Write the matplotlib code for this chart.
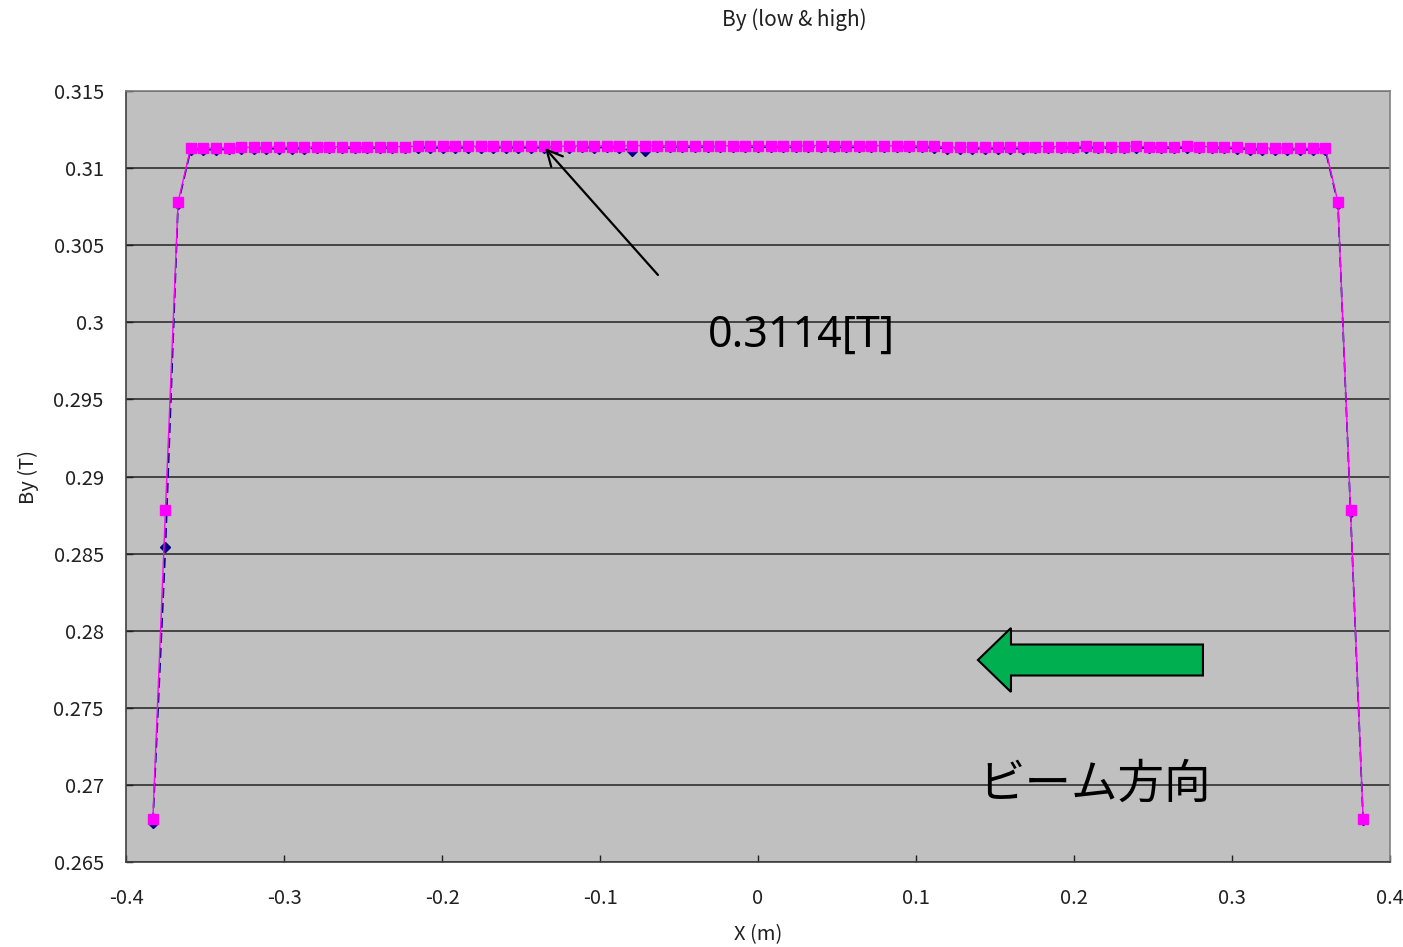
import numpy as np
import matplotlib
matplotlib.use("Agg")
import matplotlib.pyplot as plt
from matplotlib.patches import FancyArrow

plt.rcParams['font.family'] = ['Noto Sans CJK JP', 'DejaVu Sans']

# ---- data ----
high = [0.26780, 0.28780, 0.30780, 0.31130, 0.31128, 0.31130, 0.31131,
        0.31135, 0.31134, 0.31136, 0.31135, 0.31136, 0.31137,
        0.31138, 0.31139, 0.31138, 0.31139, 0.31138, 0.31140, 0.31139, 0.31140,
        0.31141, 0.31142, 0.31141, 0.31142, 0.31141, 0.31142, 0.31143, 0.31142, 0.31141, 0.31143, 0.31142, 0.31141,
        0.31143, 0.31144, 0.31143, 0.31144, 0.31143,
        0.31145, 0.31146, 0.31145, 0.31146, 0.31145, 0.31146, 0.31145, 0.31144, 0.31145, 0.31146, 0.31145, 0.31146, 0.31145,
        0.31144, 0.31145, 0.31146, 0.31145, 0.31144, 0.31145, 0.31146, 0.31145, 0.31144, 0.31145, 0.31144, 0.31143,
        0.31136, 0.31135, 0.31136, 0.31135, 0.31136, 0.31137, 0.31136, 0.31138,
        0.31140, 0.31139, 0.31140, 0.31141, 0.31140, 0.31139, 0.31140, 0.31141, 0.31140, 0.31139, 0.31140, 0.31141,
        0.31140, 0.31139, 0.31138, 0.31137,
        0.31130, 0.31129, 0.31128, 0.31129, 0.31128, 0.31129, 0.31130,
        0.30780, 0.28780, 0.26780]

low = [0.26755, 0.28543, 0.30765, 0.31120, 0.31118, 0.31120, 0.31121,
       0.31125, 0.31124, 0.31126, 0.31125, 0.31126, 0.31127,
       0.31128, 0.31129, 0.31128, 0.31129, 0.31128, 0.31130, 0.31129, 0.31130,
       0.31131, 0.31132, 0.31131, 0.31132, 0.31131, 0.31132, 0.31133, 0.31132, 0.31131, 0.31133, 0.31132, 0.31131,
       0.31133, 0.31134, 0.31133, 0.31134, 0.31133,
       0.31110, 0.31112, 0.31135, 0.31136, 0.31135, 0.31136, 0.31135, 0.31134, 0.31135, 0.31136, 0.31135, 0.31136, 0.31135,
       0.31134, 0.31135, 0.31136, 0.31135, 0.31134, 0.31135, 0.31136, 0.31135, 0.31134, 0.31135, 0.31134, 0.31133,
       0.31126, 0.31125, 0.31126, 0.31125, 0.31126, 0.31127, 0.31126, 0.31128,
       0.31130, 0.31129, 0.31130, 0.31131, 0.31130, 0.31129, 0.31130, 0.31131, 0.31130, 0.31129, 0.31130, 0.31131,
       0.31130, 0.31129, 0.31128, 0.31127,
       0.31120, 0.31119, 0.31118, 0.31119, 0.31118, 0.31119, 0.31120,
       0.30770, 0.28770, 0.26770]

x_start, x_end = -0.383, 0.383
x = np.linspace(x_start, x_end, len(high))

yticks = [0.265, 0.27, 0.275, 0.28, 0.285, 0.29, 0.295, 0.3, 0.305, 0.31, 0.315]
ytick_labels = ["0.265", "0.27", "0.275", "0.28", "0.285", "0.29", "0.295", "0.3", "0.305", "0.31", "0.315"]
xticks = [-0.4, -0.3, -0.2, -0.1, 0.0, 0.1, 0.2, 0.3, 0.4]
xtick_labels = ["-0.4", "-0.3", "-0.2", "-0.1", "0", "0.1", "0.2", "0.3", "0.4"]

peak_x, peak_y = -0.1348, 0.3113
peak_label = "0.3114[T]"

# ---- figure ----
fig = plt.figure(figsize=(14.03, 9.47), dpi=100)
ax = fig.add_axes([126/1403, 1-862/947, 1264/1403, 771/947])
ax.set_facecolor('#C0C0C0')

ax.plot(x, low, color='#000080', lw=1.2, ls=(0, (6, 3)), marker='D', ms=5.5,
        mfc='#000080', mec='#000080', zorder=3)
ax.plot(x, high, color='#FF00FF', lw=1.0, marker='s', ms=7,
        mfc='#FF00FF', mec='#FF00FF', zorder=4)

ax.set_xlim(-0.4, 0.4)
ax.set_ylim(0.265, 0.315)
ax.set_yticks(yticks)
ax.set_yticklabels(ytick_labels)
ax.set_xticks(xticks)
ax.set_xticklabels(xtick_labels)
ax.tick_params(direction='in', length=5, width=1, labelsize=14.5, colors='#202020')
ax.tick_params(axis='y', pad=16)
ax.tick_params(axis='x', pad=19)
ax.grid(axis='y', color='#222222', lw=1.1, zorder=1)
ax.set_axisbelow(True)

for s in ['left', 'bottom']:
    ax.spines[s].set_color('#404040')
    ax.spines[s].set_linewidth(1.2)
for s in ['top', 'right']:
    ax.spines[s].set_color('#808080')
    ax.spines[s].set_linewidth(1.2)

ax.set_xlabel("X (m)", fontsize=14.5, color='#202020', va='center')
ax.set_ylabel("By (T)", fontsize=14.5, color='#202020', va='center')
ax.xaxis.set_label_coords(0.5, -0.094)
ax.yaxis.set_label_coords(-0.0775, 0.5)

fig.text(794/1403, 1-20/947, "By (low & high)", ha='center', va='center',
         fontsize=15, color='#202020')

# annotation arrow + label
ax.annotate("", xy=(peak_x, peak_y), xytext=(-0.0633, 0.30307),
            arrowprops=dict(arrowstyle='->', color='black', lw=1.6,
                            mutation_scale=28, shrinkA=0, shrinkB=0), zorder=5)
ax.text(-0.0316, 0.29915, peak_label, fontsize=31, family=['Noto Sans', 'DejaVu Sans'],
        ha='left', va='center', color='black', zorder=5)

# beam direction arrow
arr = FancyArrow(0.2816, 0.2781, -0.1424, 0, width=0.00201, head_width=0.00415,
                 head_length=0.0209, length_includes_head=True,
                 fc='#00B050', ec='black', lw=1.5, zorder=5)
ax.add_patch(arr)
ax.text(0.1395, 0.27005, "ビーム方向", fontsize=33.5, ha='left', va='center',
        color='black', zorder=5)

fig.savefig("out.png", dpi=100)
